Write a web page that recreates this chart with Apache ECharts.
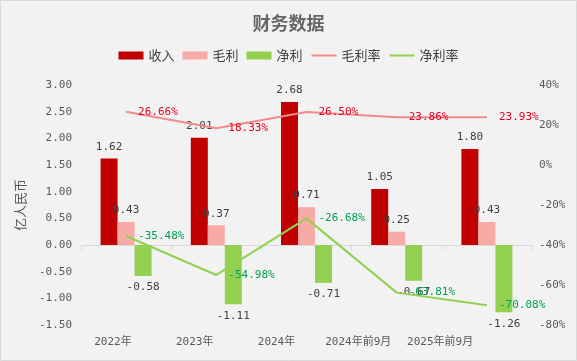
<!DOCTYPE html>
<html>
<head>
<meta charset="utf-8">
<script src="https://cdn.jsdelivr.net/npm/echarts@6/dist/echarts.min.js"></script>
<style>html,body{margin:0;padding:0;background:#f2f2f2;}#c{width:577px;height:361px;}</style>
</head>
<body>
<div id="c"></div>
<script>
var categories = ['2022年', '2023年', '2024年', '2024年前9月', '2025年前9月'];
var revenue = [1.62, 2.01, 2.68, 1.05, 1.80];
var grossProfit = [0.43, 0.37, 0.71, 0.25, 0.43];
var netProfit = [-0.58, -1.11, -0.71, -0.67, -1.26];
var grossMargin = [26.66, 18.33, 26.50, 23.86, 23.93];
var netMargin = [-35.48, -54.98, -26.68, -63.81, -70.08];

var numFont = '"DejaVu Sans Mono", "Noto Sans CJK SC", monospace';
var chart = echarts.init(document.getElementById('c'));
chart.setOption({
  backgroundColor: '#f2f2f2',
  animation: false,
  title: {
    text: '财务数据', left: 'center', top: 9,
    textStyle: { fontSize: 18, fontWeight: 'bold', color: '#666666', fontFamily: '"Noto Sans CJK SC", serif' }
  },
  legend: {
    top: 44, left: 'center', itemWidth: 25, itemHeight: 8, itemGap: 8,
    textStyle: { fontSize: 13, color: '#404040', fontFamily: '"Noto Sans CJK SC", sans-serif' },
    data: [
      { name: '收入', icon: 'rect' }, { name: '毛利', icon: 'rect' }, { name: '净利', icon: 'rect' },
      { name: '毛利率', itemStyle: { opacity: 0 } }, { name: '净利率', itemStyle: { opacity: 0 } }
    ]
  },
  graphic: [{
    type: 'rect', shape: { x: 0.5, y: 0.5, width: 576, height: 360 },
    style: { fill: 'none', stroke: '#d9d9d9', lineWidth: 1 }, silent: true
  }],
  grid: [
    { left: 81, right: 45, top: 85, bottom: 36 },
    { left: 72, right: 96, top: 85, bottom: 36 }
  ],
  xAxis: [
    {
      type: 'category', data: categories, gridIndex: 0,
      axisLine: { onZero: true, lineStyle: { color: '#d9d9d9' } },
      axisTick: { show: true, lineStyle: { color: '#d9d9d9' } },
      axisLabel: { show: false }
    },
    {
      type: 'category', data: categories, gridIndex: 1,
      axisLine: { show: false }, axisTick: { show: false },
      axisLabel: { interval: 0, margin: 12, fontSize: 11, color: '#595959', fontFamily: numFont }
    }
  ],
  yAxis: [
    {
      type: 'value', min: -1.5, max: 3, interval: 0.5, gridIndex: 0,
      name: '亿人民币', nameLocation: 'middle', nameGap: 54, nameRotate: 90,
      nameTextStyle: { fontSize: 13, color: '#595959', fontFamily: '"Noto Sans CJK SC", sans-serif' },
      splitLine: { show: false }, axisLine: { show: false }, axisTick: { show: false },
      axisLabel: { margin: 9, fontSize: 11, color: '#595959', fontFamily: numFont,
        formatter: function (v) { return v.toFixed(2); } }
    },
    {
      type: 'value', min: -80, max: 40, interval: 20, gridIndex: 0, position: 'right',
      splitLine: { show: false }, axisLine: { show: false }, axisTick: { show: false },
      axisLabel: { margin: 7, fontSize: 11, color: '#595959', fontFamily: numFont, formatter: '{value}%' }
    },
    { type: 'value', gridIndex: 1, show: false, splitLine: { show: false } }
  ],
  series: [
    {
      name: '收入', type: 'bar', data: revenue, barWidth: 17, barGap: '0%',
      itemStyle: { color: '#c00000' },
      label: { show: true, position: 'top', distance: 6, color: '#404040', fontSize: 11, fontFamily: numFont,
        formatter: function (p) { return p.value.toFixed(2); } }
    },
    {
      name: '毛利', type: 'bar', data: grossProfit, barWidth: 17, barGap: '0%',
      itemStyle: { color: '#f8aaa6' },
      label: { show: true, position: 'top', distance: 6, color: '#404040', fontSize: 11, fontFamily: numFont,
        formatter: function (p) { return p.value.toFixed(2); } }
    },
    {
      name: '净利', type: 'bar', data: netProfit, barWidth: 17, barGap: '0%',
      itemStyle: { color: '#92d050' },
      label: { show: true, position: 'bottom', distance: 6, color: '#404040', fontSize: 11, fontFamily: numFont,
        formatter: function (p) { return p.value.toFixed(2); } }
    },
    {
      name: '毛利率', type: 'line', yAxisIndex: 1, data: grossMargin, symbol: 'circle', symbolSize: 0, showSymbol: true, z: 5,
      lineStyle: { color: '#f28b8b', width: 2 }, itemStyle: { color: '#f28b8b' },
      label: { show: true, position: 'right', distance: 12, color: '#e6001f', fontSize: 11, fontFamily: numFont,
        formatter: function (p) { return p.value.toFixed(2) + '%'; } }
    },
    {
      name: '净利率', type: 'line', yAxisIndex: 1, data: netMargin, symbol: 'circle', symbolSize: 0, showSymbol: true, z: 5,
      lineStyle: { color: '#92d050', width: 2 }, itemStyle: { color: '#92d050' },
      label: { show: true, position: 'right', distance: 12, color: '#00a050', fontSize: 11, fontFamily: numFont,
        formatter: function (p) { return p.value.toFixed(2) + '%'; } }
    }
  ]
});
</script>
</body>
</html>
